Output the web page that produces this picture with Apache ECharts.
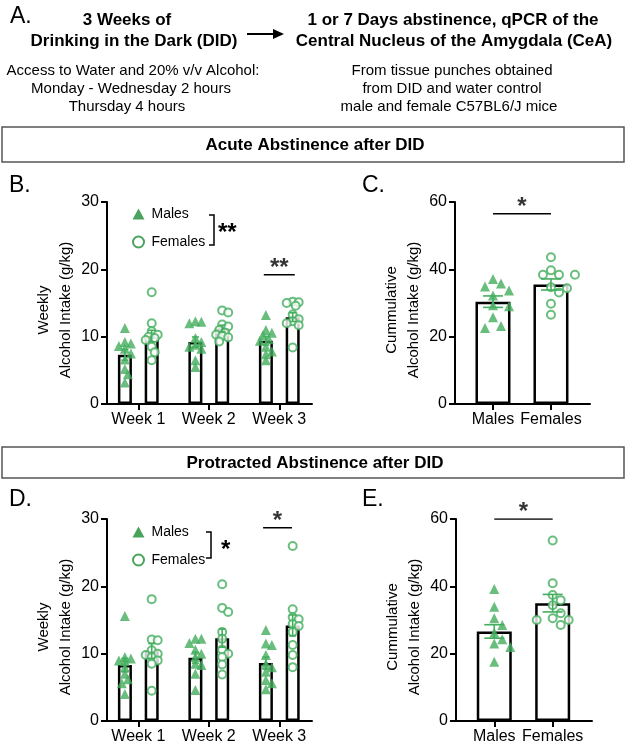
<!DOCTYPE html>
<html><head><meta charset="utf-8">
<script src="https://cdn.jsdelivr.net/npm/echarts@6/dist/echarts.min.js"></script>
<style>html,body{margin:0;padding:0;background:#fff}#c{width:629px;height:750px}</style>
</head><body><div id="c"></div>
<script>
// ---------- data ----------
const weeks = ['Week 1', 'Week 2', 'Week 3'];
const sexes = ['Males', 'Females'];
const weeklyTicks = [0, 10, 20, 30];
const cumTicks = [0, 20, 40, 60];

// B. Acute abstinence, weekly intake (g/kg)
const acuteMaleWeek1 = [11.3, 9.2, 9.0, 8.6, 8.2, 7.5, 6.6, 5.2, 4.4, 3.2];
const acuteMaleWeek2 = [12.3, 12.2, 12.0, 9.8, 9.2, 8.8, 8.5, 8.2, 6.5, 5.5];
const acuteMaleWeek3 = [13.2, 11.0, 10.6, 10.2, 9.6, 9.4, 8.5, 7.8, 7.4, 6.5];
const acuteFemaleWeek1 = [16.6, 12.0, 10.8, 10.3, 10.0, 9.8, 9.5, 8.5, 7.7, 6.5];
const acuteFemaleWeek2 = [13.9, 13.6, 11.8, 11.5, 11.0, 10.6, 10.3, 10.1, 9.9, 9.3];
const acuteFemaleWeek3 = [15.2, 15.1, 15.0, 14.6, 13.3, 12.6, 12.3, 12.0, 11.7, 8.4];
const acuteMaleMean = [7.3, 9.2, 9.4];
const acuteMaleSem = [0.8, 0.75, 0.65];
const acuteFemaleMean = [10.1, 11.2, 12.9];
const acuteFemaleSem = [0.85, 0.5, 0.65];

// C. Acute abstinence, cumulative intake (g/kg)
const acuteCumMales = [37.1, 35.8, 34.9, 33.7, 32.2, 29.3, 29.0, 25.8, 23.2, 22.6];
const acuteCumFemales = [43.6, 39.7, 38.4, 38.4, 38.4, 34.7, 34.4, 33.1, 29.8, 26.5];
const acuteCumMean = [30.4, 35.5];
const acuteCumSem = [1.7, 1.65];

// D. Protracted abstinence, weekly intake (g/kg)
const protMaleWeek1 = [15.6, 9.5, 9.3, 9.0, 8.9, 8.0, 7.0, 6.2, 5.6, 4.0];
const protMaleWeek2 = [12.2, 12.2, 11.6, 10.6, 10.0, 9.5, 8.5, 8.3, 7.0, 4.6];
const protMaleWeek3 = [13.5, 11.5, 11.3, 9.8, 8.5, 8.0, 7.3, 6.1, 5.6, 4.7];
const protFemaleWeek1 = [18.1, 12.1, 12.0, 10.5, 10.0, 9.8, 9.5, 9.0, 8.5, 4.5];
const protFemaleWeek2 = [20.3, 16.8, 16.2, 13.2, 12.2, 10.6, 10.0, 9.5, 8.4, 6.9];
const protFemaleWeek3 = [26.0, 16.6, 15.4, 15.1, 14.4, 14.1, 13.2, 11.3, 9.8, 8.0];
const protMaleMean = [8.3, 9.4, 8.6];
const protMaleSem = [1.0, 0.8, 0.9];
const protFemaleMean = [10.4, 12.3, 14.2];
const protFemaleSem = [1.1, 1.35, 1.55];

// E. Protracted abstinence, cumulative intake (g/kg)
const protCumMales = [39.2, 33.9, 30.5, 28.5, 26.2, 24.3, 23.0, 22.0, 17.6];
const protCumFemales = [53.6, 40.9, 37.4, 35.9, 34.4, 32.0, 30.5, 30.0, 30.0, 28.5];
const protCumMean = [26.6, 35.0];
const protCumSem = [2.0, 2.6];

// significance annotations (y value in data units)
const acuteWeek3SigY = 19.2, acuteCumSigY = 56.5, protWeek3SigY = 28.7, protCumSigY = 60;

// ---------- styling / layout ----------
const FONT = '"Liberation Sans", Arial, Helvetica, sans-serif';
const GREEN = '#43ae5e', DARK = '#1c8c33';
const OFF = 0.19; // male/female offset within a week (in week units)
const WX = {min: 0.556, max: 3.464};
const CX = {min: 0.345, max: 2.673};
const grids = [
  {left: 107, top: 202, width: 205, height: 202},
  {left: 455, top: 202, width: 135, height: 202},
  {left: 107, top: 519, width: 205, height: 202},
  {left: 456, top: 519, width: 136, height: 202}
];

// beeswarm-style spread so that symbols do not overlap too much (x in axis units)
function swarm(values, center, pxPerX, pxPerY, d, step, maxOff) {
  const order = values.map((v, i) => i).sort((a, b) => values[b] - values[a]);
  const placed = [], xs = [];
  for (const i of order) {
    const py = values[i] * pxPerY;
    let k = 0, off = 0, best = null, bestD = -1;
    while (true) {
      const c = k === 0 ? 0 : (k % 2 ? 1 : -1) * Math.ceil(k / 2) * step;
      if (Math.abs(c) > maxOff) { off = best; break; }
      const md = placed.length ? Math.min(...placed.map(p => Math.hypot(p.x - c, p.y - py))) : 1e9;
      if (md >= d) { off = c; break; }
      if (md > bestD) { bestD = md; best = c; }
      k++;
    }
    placed.push({x: off, y: py});
    xs[i] = center + off / pxPerX;
  }
  return values.map((v, i) => [xs[i], v]);
}

function xAxisFor(gi, range, names) {
  const pos = names.map((n, i) => i + 1);
  return {
    type: 'value', gridIndex: gi, min: range.min, max: range.max,
    axisLine: {show: true, onZero: false, lineStyle: {color: '#000', width: 2}},
    axisTick: {show: true, customValues: pos, length: 6, lineStyle: {color: '#000', width: 2}},
    axisLabel: {customValues: pos, formatter: v => names[Math.round(v) - 1] || '', fontSize: 16, color: '#000', margin: 8, fontFamily: FONT},
    splitLine: {show: false}
  };
}
function yAxisFor(gi, ticks) {
  return {
    type: 'value', gridIndex: gi, min: ticks[0], max: ticks[ticks.length - 1], interval: ticks[1] - ticks[0],
    axisLine: {show: true, lineStyle: {color: '#000', width: 2}},
    axisTick: {show: true, length: 6, lineStyle: {color: '#000', width: 2}},
    axisLabel: {fontSize: 16, color: '#000', margin: 8, fontFamily: FONT},
    splitLine: {show: false}
  };
}
function errSeries(gi, data, half) {
  return {
    type: 'custom', xAxisIndex: gi, yAxisIndex: gi, z: 4, silent: true, data,
    encode: {x: 0, y: 1},
    renderItem: (p, api) => {
      const x = api.value(0), m = api.value(1), e = api.value(2);
      const t = api.coord([x, m + e]), b = api.coord([x, m - e]);
      const st = {stroke: GREEN, lineWidth: 1.6};
      return {type: 'group', children: [
        {type: 'line', shape: {x1: t[0], y1: t[1], x2: b[0], y2: b[1]}, style: st},
        {type: 'line', shape: {x1: t[0] - half, y1: t[1], x2: t[0] + half, y2: t[1]}, style: st},
        {type: 'line', shape: {x1: b[0] - half, y1: b[1], x2: b[0] + half, y2: b[1]}, style: st}
      ]};
    }
  };
}
function sigSeries(gi, x1, x2, y, text) {
  return [
    {type: 'line', xAxisIndex: gi, yAxisIndex: gi, data: [[x1, y], [x2, y]], symbol: 'none',
     lineStyle: {color: '#000', width: 1.5}, z: 5, silent: true},
    {type: 'scatter', xAxisIndex: gi, yAxisIndex: gi, data: [[(x1 + x2) / 2, y]], symbolSize: 1,
     itemStyle: {color: 'rgba(0,0,0,0)'}, z: 5, silent: true,
     label: {show: true, position: 'top', distance: -6, formatter: text, fontSize: 24, fontWeight: 'bold', color: '#000', fontFamily: FONT}}
  ];
}
function weeklySeries(gi, maleGroups, femaleGroups, mMean, mSem, fMean, fSem) {
  const g = grids[gi];
  const pxX = g.width / (WX.max - WX.min), pxY = g.height / weeklyTicks[weeklyTicks.length - 1];
  const s = [];
  const bars = [], eb = [];
  weeks.forEach((w, i) => {
    bars.push([i + 1 - OFF, mMean[i]], [i + 1 + OFF, fMean[i]]);
    eb.push([i + 1 - OFF, mMean[i], mSem[i]], [i + 1 + OFF, fMean[i], fSem[i]]);
  });
  s.push({type: 'bar', xAxisIndex: gi, yAxisIndex: gi, data: bars, barWidth: 14, z: 1, silent: true,
    itemStyle: {color: '#fff', borderColor: '#000', borderWidth: 2.5}});
  weeks.forEach((w, i) => {
    s.push({type: 'scatter', name: 'Males', xAxisIndex: gi, yAxisIndex: gi, z: 3, silent: true,
      data: swarm(maleGroups[i], i + 1 - OFF, pxX, pxY, 6, 3, 7),
      symbol: 'triangle', symbolSize: 10, itemStyle: {color: GREEN}});
    s.push({type: 'scatter', name: 'Females', xAxisIndex: gi, yAxisIndex: gi, z: 3, silent: true,
      data: swarm(femaleGroups[i], i + 1 + OFF, pxX, pxY, 6, 3, 7),
      symbol: 'emptyCircle', symbolSize: 8, itemStyle: {color: GREEN, borderColor: GREEN, borderWidth: 2}});
  });
  s.push(errSeries(gi, eb, 3.5));
  return s;
}
function cumSeries(gi, males, females, mean, sem) {
  const g = grids[gi];
  const pxX = g.width / (CX.max - CX.min), pxY = g.height / cumTicks[cumTicks.length - 1];
  return [
    {type: 'bar', xAxisIndex: gi, yAxisIndex: gi, data: sexes.map((n, i) => [i + 1, mean[i]]), barWidth: 35, z: 1, silent: true,
     itemStyle: {color: '#fff', borderColor: '#000', borderWidth: 2.5}},
    {type: 'scatter', name: 'Males', xAxisIndex: gi, yAxisIndex: gi, z: 3, silent: true,
     data: swarm(males, 1, pxX, pxY, 9, 8, 24), symbol: 'triangle', symbolSize: 10, itemStyle: {color: GREEN}},
    {type: 'scatter', name: 'Females', xAxisIndex: gi, yAxisIndex: gi, z: 3, silent: true,
     data: swarm(females, 2, pxX, pxY, 9, 8, 24), symbol: 'emptyCircle', symbolSize: 8,
     itemStyle: {color: GREEN, borderColor: GREEN, borderWidth: 2}},
    errSeries(gi, sexes.map((n, i) => [i + 1, mean[i], sem[i]]), 10)
  ];
}
// empty series that only carry the (darker) legend key style
const legendKeys = [
  {type: 'scatter', name: 'Males', data: [], symbol: 'triangle', itemStyle: {color: DARK}},
  {type: 'scatter', name: 'Females', data: [], symbol: 'emptyCircle', itemStyle: {color: DARK, borderColor: DARK, borderWidth: 3}}
];
function legendAt(top) {
  return {
    orient: 'vertical', left: 127, top, itemGap: 14, itemWidth: 12, itemHeight: 11, selectedMode: false,
    textStyle: {fontSize: 14, color: '#000', fontFamily: FONT, padding: [0, 0, 0, 2]},
    data: sexes
  };
}
function txt(t, x, y, size, weight, align, rot) {
  return {type: 'text', x, y, rotation: rot || 0, silent: true,
    style: {text: t, font: (weight || 'normal') + ' ' + size + 'px ' + FONT, fill: '#000',
      textAlign: align || 'center', align: align || 'center', textVerticalAlign: 'middle', verticalAlign: 'middle', lineHeight: 22}};
}
function bracket(x, y1, y2, star, sx, sy) {
  return [
    {type: 'polyline', silent: true, shape: {points: [[x - 5, y1], [x, y1], [x, y2], [x - 5, y2]]}, style: {stroke: '#000', lineWidth: 1.5, fill: null}},
    txt(star, sx, sy, 24, 'bold', 'left')
  ];
}

const graphic = [
  txt('A.', 10, 17, 23, 'normal', 'left'),
  txt('3 Weeks of', 127, 20, 17, 'bold'),
  txt('Drinking in the Dark (DID)', 134, 41, 17, 'bold'),
  {type: 'line', silent: true, shape: {x1: 247, y1: 34, x2: 276, y2: 34}, style: {stroke: '#000', lineWidth: 2}},
  {type: 'polygon', silent: true, shape: {points: [[273, 29], [284, 34], [273, 39]]}, style: {fill: '#000'}},
  txt('1 or 7 Days abstinence, qPCR of the', 453, 20, 17, 'bold'),
  txt('Central Nucleus of the Amygdala (CeA)', 454, 41, 17, 'bold'),
  txt('Access to Water and 20% v/v Alcohol:', 133, 71, 15),
  txt('Monday - Wednesday 2 hours', 131, 89, 15),
  txt('Thursday 4 hours', 127, 107, 15),
  txt('From tissue punches obtained', 452, 71, 15),
  txt('from DID and water control', 452, 89, 15),
  txt('male and female C57BL6/J mice', 449, 107, 15),
  {type: 'rect', silent: true, shape: {x: 2, y: 127, width: 622, height: 35}, style: {fill: null, stroke: '#555', lineWidth: 1.5}},
  txt('Acute Abstinence after DID', 315, 145, 17, 'bold'),
  {type: 'rect', silent: true, shape: {x: 2, y: 447, width: 622, height: 31}, style: {fill: null, stroke: '#555', lineWidth: 1.5}},
  txt('Protracted Abstinence after DID', 315, 463, 17, 'bold'),
  txt('B.', 9, 186, 23, 'normal', 'left'),
  txt('C.', 362, 186, 23, 'normal', 'left'),
  txt('D.', 9, 500, 23, 'normal', 'left'),
  txt('E.', 362, 500, 23, 'normal', 'left'),
  txt('Weekly\nAlcohol Intake (g/kg)', 55, 310, 15, 'normal', 'center', Math.PI / 2),
  txt('Cummulative\nAlcohol Intake (g/kg)', 403, 310, 15, 'normal', 'center', Math.PI / 2),
  txt('Weekly\nAlcohol Intake (g/kg)', 55, 627, 15, 'normal', 'center', Math.PI / 2),
  txt('Cummulative\nAlcohol Intake (g/kg)', 404, 627, 15, 'normal', 'center', Math.PI / 2),
  ...bracket(214, 215, 245, '**', 218, 233),
  ...bracket(211, 532, 558, '*', 221, 550)
];

const option = {
  animation: false,
  backgroundColor: '#fff',
  textStyle: {fontFamily: FONT},
  grid: grids,
  xAxis: [xAxisFor(0, WX, weeks), xAxisFor(1, CX, sexes), xAxisFor(2, WX, weeks), xAxisFor(3, CX, sexes)],
  yAxis: [yAxisFor(0, weeklyTicks), yAxisFor(1, cumTicks), yAxisFor(2, weeklyTicks), yAxisFor(3, cumTicks)],
  legend: [legendAt(202), legendAt(520)],
  series: [
    ...legendKeys,
    ...weeklySeries(0, [acuteMaleWeek1, acuteMaleWeek2, acuteMaleWeek3], [acuteFemaleWeek1, acuteFemaleWeek2, acuteFemaleWeek3],
      acuteMaleMean, acuteMaleSem, acuteFemaleMean, acuteFemaleSem),
    ...sigSeries(0, 3 - OFF - 0.03, 3 + OFF + 0.03, acuteWeek3SigY, '**'),
    ...cumSeries(1, acuteCumMales, acuteCumFemales, acuteCumMean, acuteCumSem),
    ...sigSeries(1, 1, 2, acuteCumSigY, '*'),
    ...weeklySeries(2, [protMaleWeek1, protMaleWeek2, protMaleWeek3], [protFemaleWeek1, protFemaleWeek2, protFemaleWeek3],
      protMaleMean, protMaleSem, protFemaleMean, protFemaleSem),
    ...sigSeries(2, 3 - OFF - 0.04, 3 + OFF - 0.01, protWeek3SigY, '*'),
    ...cumSeries(3, protCumMales, protCumFemales, protCumMean, protCumSem),
    ...sigSeries(3, 1, 2, protCumSigY, '*')
  ],
  graphic
};
const chart = echarts.init(document.getElementById('c'), null, {renderer: 'canvas'});
chart.setOption(option);
</script>
</body></html>
